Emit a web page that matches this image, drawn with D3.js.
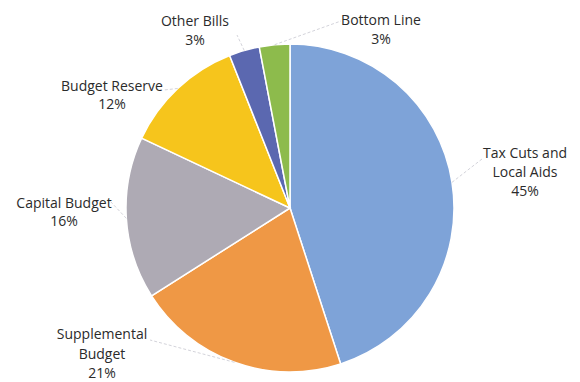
<!DOCTYPE html>
<html lang="en">
<head>
<meta charset="utf-8">
<title>Budget pie</title>
<style>
  body { margin: 0; background: #fff; }
  .lbl { font-family: "Open Sans", sans-serif; font-size: 14px; fill: #2b2b2b; }
  .leader { fill: none; stroke: #c8c8d0; stroke-width: 0.8px; stroke-dasharray: 3px 2px; }
</style>
</head>
<body>
<svg width="580" height="382"></svg>
<script src="https://d3js.org/d3.v7.min.js"></script>
<script>
// data
var categories = ["Tax Cuts and Local Aids", "Supplemental Budget", "Capital Budget",
                  "Budget Reserve", "Other Bills", "Bottom Line"];
var values = [45, 21, 16, 12, 3, 3];
var pctLabels = ["45%", "21%", "16%", "12%", "3%", "3%"];
var labelLines = [["Tax Cuts and", "Local Aids"], ["Supplemental", "Budget"], ["Capital Budget"],
                  ["Budget Reserve"], ["Other Bills"], ["Bottom Line"]];
var colors = ["#7ea3d8", "#ef9845", "#aeaab4", "#f6c51c", "#5b68b0", "#8dbb4c"];

var svg = d3.select("svg");
var cx = 290, cy = 208, r = 164;

// label layout: text centre x, first baseline y, line height, leader end point
var layout = [
  {x: 525, y: 158, lh: 19,   lx: 482, ly: 159},
  {x: 102, y: 339, lh: 19.5, lx: 150, ly: 340},
  {x: 64,  y: 208, lh: 17.5, lx: 110, ly: 201},
  {x: 112, y: 91,  lh: 18,   lx: 164, ly: 90},
  {x: 195, y: 26,  lh: 18.5, lx: 237, ly: 35},
  {x: 381, y: 25,  lh: 18.5, lx: 341, ly: 21}
];

var pie = d3.pie().sort(null).value(function(d) { return d; });
var arcs = pie(values);

var arc = d3.arc().innerRadius(0).outerRadius(r);
var edge = d3.arc().innerRadius(r).outerRadius(r);

var g = svg.append("g").attr("transform", "translate(" + cx + "," + cy + ")");

g.selectAll("path.slice")
  .data(arcs)
  .enter()
  .append("path")
  .attr("class", "slice")
  .attr("d", arc)
  .attr("fill", function(d, i) { return colors[i]; })
  .attr("stroke", "#fff")
  .attr("stroke-width", 1.5);

// leader lines from slice edge to label
svg.selectAll("line.leader")
  .data(arcs)
  .enter()
  .append("line")
  .attr("class", "leader")
  .attr("x1", function(d) { return cx + edge.centroid(d)[0]; })
  .attr("y1", function(d) { return cy + edge.centroid(d)[1]; })
  .attr("x2", function(d, i) { return layout[i].lx; })
  .attr("y2", function(d, i) { return layout[i].ly; });

// labels
categories.forEach(function(c, i) {
  var L = layout[i];
  var t = svg.append("text")
    .attr("class", "lbl")
    .attr("text-anchor", "middle");
  var lines = labelLines[i].concat([pctLabels[i]]);
  lines.forEach(function(s, k) {
    t.append("tspan")
     .attr("x", L.x)
     .attr("y", L.y + k * L.lh)
     .text(s);
  });
});
</script>
</body>
</html>
